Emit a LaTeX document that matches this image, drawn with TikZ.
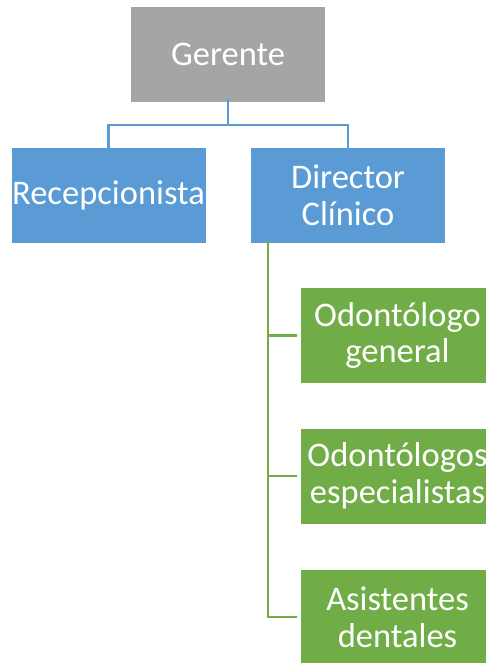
\documentclass[tikz,border=0pt]{standalone}
\usepackage{fontspec}
\setmainfont{Carlito}
\definecolor{ggray}{HTML}{A5A5A5}
\definecolor{gblue}{HTML}{5B9BD5}
\definecolor{ggreen}{HTML}{70AD47}
\begin{document}
\begin{tikzpicture}[x=1pt,y=-1pt,
  box/.style={draw=white,line width=0.8pt,minimum width=195pt,minimum height=96pt,inner sep=0pt,text=white,align=center,font=\fontsize{34.5}{36.5}\selectfont},
  bline/.style={draw=gblue,line width=2.8pt},
  gline/.style={draw=ggreen,line width=2.8pt}]
\useasboundingbox (0,0) rectangle (486,663);
\begin{scope}
\clip (0,0) rectangle (486,663);
\node[box,fill=ggray] (ger) at (228,54) {Gerente};
\node[box,fill=gblue] (rec) at (108.5,195) {Recepcionista};
\node[box,fill=gblue] (dir) at (348,195) {Director\\Clínico};
\node[box,fill=ggreen] (od) at (397.5,335.5) {Odontólogo\\general};
\node[box,fill=ggreen] (os) at (397.5,476) {Odontólogos\\especialistas};
\node[box,fill=ggreen] (as) at (397.5,617) {Asistentes\\dentales};
\coordinate (hub) at (228,125);
\draw[bline] ([yshift=3pt]ger.south) -- (hub);
\draw[bline] ([yshift=-3pt]rec.north) |- (hub) -| ([yshift=-3pt]dir.north);
\coordinate (gtop) at ([xshift=-80pt,yshift=3pt]dir.south);
\draw[gline] (gtop) |- ([xshift=-3pt]as.west);
\draw[gline] (gtop |- od.west) -- ([xshift=-3pt]od.west);
\draw[gline] (gtop |- os.west) -- ([xshift=-3pt]os.west);
\end{scope}
\end{tikzpicture}
\end{document}
